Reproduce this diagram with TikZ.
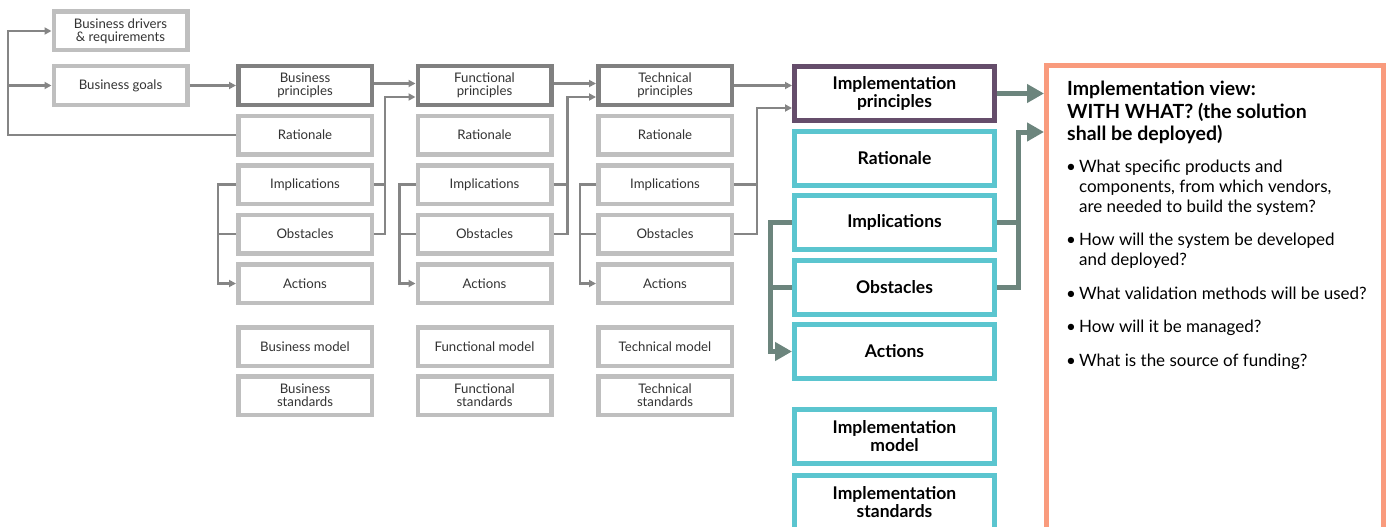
\documentclass[tikz,border=0pt]{standalone}
\usepackage{fontspec}
\setmainfont{Lato}
\usetikzlibrary{arrows.meta,positioning}

\definecolor{boxgrey}{HTML}{BFBFBF}
\definecolor{darkgrey}{HTML}{808080}
\definecolor{linegrey}{HTML}{858585}
\definecolor{implpurple}{HTML}{654D6B}
\definecolor{implteal}{HTML}{5BC5CF}
\definecolor{flowgreen}{HTML}{6C857D}
\definecolor{vieworange}{HTML}{F99B7D}
\definecolor{textgrey}{HTML}{333333}

\begin{document}
\begin{tikzpicture}[
			x=1pt, y=-1pt,
			>={Triangle[length=7pt,width=7pt]},
			layer/.style={
				draw=boxgrey,
				line width=4.5pt,
				fill=white,
				align=center,
				minimum width=133.5pt,
				minimum height=38.5pt,
				inner sep=0pt,
				outer sep=2.25pt,
				text=textgrey,
				font=\fontsize{13.2}{13}\selectfont
			},
			principle/.style={layer, draw=darkgrey},
			implbox/.style={
				draw=implteal,
				line width=5pt,
				fill=white,
				align=center,
				minimum width=200pt,
				minimum height=54pt,
				inner sep=0pt,
				outer sep=2.5pt,
				font=\bfseries\fontsize{17.5}{18}\selectfont
			},
			viewbox/.style={
				draw=vieworange,
				line width=5pt,
				minimum width=337pt,
				minimum height=512pt,
				inner sep=0pt,
				outer sep=2.5pt
			},
			link/.style={draw=linegrey, line width=2.5pt},
			flow/.style={draw=flowgreen, line width=5pt, -{Triangle[length=17pt,width=18pt]}}
			]
			
			\useasboundingbox (0,0) rectangle (1390,527);
			\clip (0,0) rectangle (1390,527);
			
			% inputs
			\node[layer] (drivers) at (120.5,31) {Business drivers\\\& requirements};
			\node[layer] (goals) at (120.5,85.5) {Business goals};
			
			% business column
			\node[principle] (bPri) at (305,85.5) {Business\\principles};
			\node[layer,below=6.5pt of bPri] (bRat) {Rationale};
			\node[layer,below=6.5pt of bRat] (bImp) {Implications};
			\node[layer,below=6.5pt of bImp] (bObs) {Obstacles};
			\node[layer,below=6.5pt of bObs] (bAct) {Actions};
			\node[layer,below=20pt of bAct] (bMod) {Business model};
			\node[layer,below=6pt of bMod] (bStd) {Business\\standards};
			
			% functional column
			\node[principle] (fPri) at (484.5,85.5) {Functional\\principles};
			\node[layer,below=6.5pt of fPri] (fRat) {Rationale};
			\node[layer,below=6.5pt of fRat] (fImp) {Implications};
			\node[layer,below=6.5pt of fImp] (fObs) {Obstacles};
			\node[layer,below=6.5pt of fObs] (fAct) {Actions};
			\node[layer,below=20pt of fAct] (fMod) {Functional model};
			\node[layer,below=6pt of fMod] (fStd) {Functional\\standards};
			
			% technical column
			\node[principle] (tPri) at (665,85.5) {Technical\\principles};
			\node[layer,below=6.5pt of tPri] (tRat) {Rationale};
			\node[layer,below=6.5pt of tRat] (tImp) {Implications};
			\node[layer,below=6.5pt of tImp] (tObs) {Obstacles};
			\node[layer,below=6.5pt of tObs] (tAct) {Actions};
			\node[layer,below=20pt of tAct] (tMod) {Technical model};
			\node[layer,below=6pt of tMod] (tStd) {Technical\\standards};
			
			% implementation column
			\node[implbox,draw=implpurple] (iPri) at (894.5,93.5) {Implementation\\principles};
			\node[implbox,below=5.5pt of iPri] (iRat) {Rationale};
			\node[implbox,below=5.5pt of iRat] (iImp) {Implications};
			\node[implbox,below=5.5pt of iImp] (iObs) {Obstacles};
			\node[implbox,below=5.5pt of iObs] (iAct) {Actions};
			\node[implbox,below=26pt of iAct] (iMod) {Implementation\\model};
			\node[implbox,below=7pt of iMod] (iStd) {Implementation\\standards};
			
			% implementation view
			\node[viewbox] (view) at (1215,321.5) {};
			\node[anchor=north west,align=left,inner sep=0pt,
			font=\bfseries\fontsize{19.5}{22.5}\selectfont] (vTitle) at (1067,81)
			{Implementation view:\\WITH WHAT? (the solution\\shall be deployed)};
			\node[anchor=north west,inner sep=0pt,
			font=\fontsize{17}{20}\selectfont] (vList) at (1066,158)
			{\begin{tabular}{@{}l@{\hspace{3pt}}l@{}}
					\textbullet & What specific products and\\
					& components, from which vendors,\\
					& are needed to build the system?\\[13.5pt]
					\textbullet & How will the system be developed\\
					& and deployed?\\[13.5pt]
					\textbullet & What validation methods will be used?\\[13.5pt]
					\textbullet & How will it be managed?\\[13.5pt]
					\textbullet & What is the source of funding?
			\end{tabular}};
			
			% feedback to drivers and goals
			\coordinate (fb) at (8,31);
			\draw[link,->] (bRat.west) -| (fb) -- (drivers.west);
			\draw[link,->] (fb |- goals.west) -- (goals.west);
			\draw[link,->] (goals) -- (bPri);
			
			% business -> functional
			\draw[link,->] ([yshift=2pt]bPri.east) -- ([yshift=2pt]fPri.west);
			\draw[link] (bImp.east) -- ++(11,0);
			\draw[link,->] (bObs.east) -| ([xshift=11pt]bImp.east) |- ([yshift=-11.5pt]fPri.west);
			\draw[link] (bObs.west) -- ++(-18,0);
			\draw[link,->] (bImp.west) -- ++(-18,0) |- (bAct.west);
			
			% functional -> technical
			\draw[link,->] ([yshift=2pt]fPri.east) -- ([yshift=2pt]tPri.west);
			\draw[link] (fImp.east) -- ++(14,0);
			\draw[link,->] (fObs.east) -| ([xshift=14pt]fImp.east) |- ([yshift=-11.5pt]tPri.west);
			\draw[link] (fObs.west) -- ++(-16,0);
			\draw[link,->] (fImp.west) -- ++(-16,0) |- (fAct.west);
			
			% technical -> implementation
			\draw[link,->] (tPri.east) -- (tPri.east -| iPri.west);
			\draw[link] (tImp.east) -- ++(23,0);
			\draw[link,->] (tObs.east) -| ([xshift=23pt]tImp.east) |- ([yshift=-14.5pt]iPri.west);
			\draw[link] (tObs.west) -- ++(-16,0);
			\draw[link,->] (tImp.west) -- ++(-16,0) |- (tAct.west);
			
			% implementation -> view
			\coordinate (viewIn) at (1044,132);
			\draw[flow] (iPri.east) -- (iPri.east -| view.west);
			\draw[flow,-] (iImp.east) -- ++(21,0);
			\draw[flow] (iObs.east) -| ([xshift=21pt]iImp.east) |- (viewIn);
			\draw[flow,-] (iObs.west) -- ++(-22,0);
			\draw[flow] (iImp.west) -- ++(-22,0) |- (iAct.west);
			
		\end{tikzpicture}
\end{document}
